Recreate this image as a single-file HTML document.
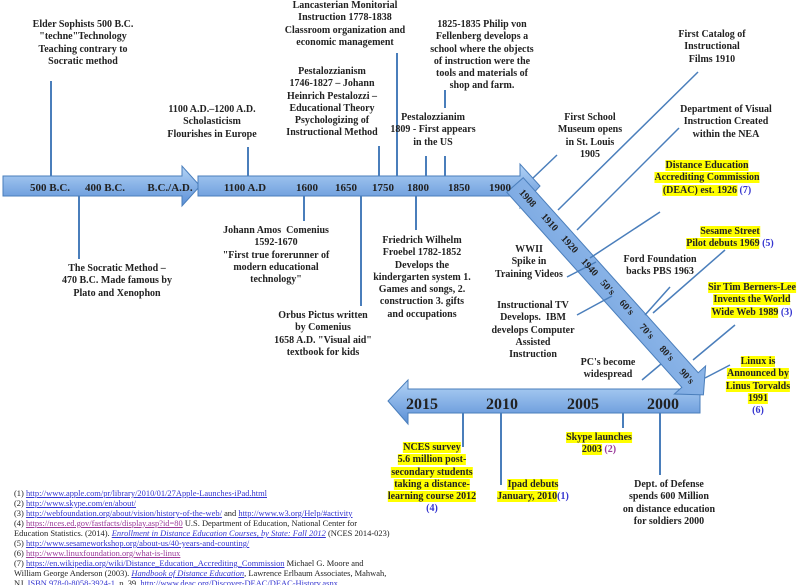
<!DOCTYPE html>
<html><head><meta charset="utf-8"><style>
html,body{margin:0;padding:0;background:#fff;}
#w{position:relative;width:798px;height:585px;overflow:hidden;background:#fff;}
svg{position:absolute;left:0;top:0;}
.t{position:absolute;font-family:"Liberation Serif",serif;font-weight:bold;font-size:10px;line-height:12.3px;color:#222;text-align:center;white-space:nowrap;transform:translateX(-50%);}
.h{background:#ffff00;}
.b{color:#3535d0;font-weight:bold;}
.p{color:#9a3a9a;}
.refs{position:absolute;left:14px;top:488px;font-family:"Liberation Serif",serif;font-size:8.45px;line-height:10px;color:#222;white-space:nowrap;}
.refs a{color:#3535d0;text-decoration:underline;}
.refs a.p{color:#9a3a9a;}
</style></head><body><div id="w">
<svg width="798" height="585" viewBox="0 0 798 585">
<defs>
<linearGradient id="g" x1="0" y1="0" x2="0" y2="1"><stop offset="0" stop-color="#b4d4f6"/><stop offset="1" stop-color="#5a8fd6"/></linearGradient>
<linearGradient id="gd" x1="1" y1="0" x2="0" y2="0.9"><stop offset="0" stop-color="#b4d4f6"/><stop offset="1" stop-color="#5a8fd6"/></linearGradient>
</defs>
<g stroke="#4a7ebb" stroke-width="1">
<polygon fill="url(#g)" points="3,176 182,176 182,166 200,186 182,206 182,196 3,196"/>
<polygon fill="url(#g)" points="198,176 520,176 520,164 540,186 520,208 520,196 198,196"/>
<polygon fill="url(#g)" points="700,389 408,389 408,380 388,401 408,424 408,413 700,413"/>
<polygon fill="url(#gd)" points="523.2,177.7 698.2,372.7 705.6,366 703.4,394.9 674.4,394 681.8,387.3 506.8,192.3"/>
</g>
<g stroke="#4a7ebb" stroke-width="2">
<line x1="51" y1="81" x2="51" y2="176"/>
<line x1="79" y1="196" x2="79" y2="259"/>
<line x1="248" y1="147" x2="248" y2="176"/>
<line x1="304" y1="196" x2="304" y2="221"/>
<line x1="361" y1="196" x2="361" y2="306"/>
<line x1="379" y1="146" x2="379" y2="176"/>
<line x1="397" y1="53" x2="397" y2="176"/>
<line x1="416" y1="196" x2="416" y2="230"/>
<line x1="426" y1="156" x2="426" y2="176"/>
<line x1="445" y1="90" x2="445" y2="108"/>
<line x1="445" y1="156" x2="445" y2="176"/>
<line x1="463" y1="413" x2="463" y2="447"/>
<line x1="501" y1="413" x2="501" y2="485"/>
<line x1="623" y1="413" x2="623" y2="428"/>
<line x1="660" y1="413" x2="660" y2="475"/>
</g>
<g stroke="#4a7ebb" stroke-width="1.5">
<line x1="533" y1="178" x2="557" y2="155"/>
<line x1="558" y1="210" x2="698" y2="72"/>
<line x1="577" y1="230" x2="679" y2="128"/>
<line x1="590" y1="258" x2="660" y2="212"/>
<line x1="567" y1="277" x2="596" y2="262"/>
<line x1="577" y1="315" x2="612" y2="296"/>
<line x1="645" y1="315" x2="670" y2="287"/>
<line x1="653" y1="313" x2="725" y2="250"/>
<line x1="642" y1="380" x2="661" y2="364"/>
<line x1="693" y1="360" x2="735" y2="325"/>
<line x1="705" y1="378" x2="730" y2="365"/>
</g>
<g font-family="Liberation Serif,serif" font-weight="bold" font-size="11" fill="#222" text-anchor="middle">
<text x="50" y="191">500 B.C.</text>
<text x="105" y="191">400 B.C.</text>
<text x="170" y="191">B.C./A.D.</text>
<text x="245" y="191">1100 A.D</text>
<text x="307" y="191">1600</text>
<text x="346" y="191">1650</text>
<text x="383" y="191">1750</text>
<text x="418" y="191">1800</text>
<text x="459" y="191">1850</text>
<text x="500" y="191">1900</text>
</g>
<g font-family="Liberation Serif,serif" font-weight="bold" font-size="10" fill="#222" text-anchor="middle">
<text transform="translate(528,198) rotate(48)" y="3.5">1908</text>
<text transform="translate(550,222) rotate(48)" y="3.5">1910</text>
<text transform="translate(570,244) rotate(48)" y="3.5">1920</text>
<text transform="translate(590,267) rotate(48)" y="3.5">1940</text>
<text transform="translate(608,287) rotate(48)" y="3.5">50's</text>
<text transform="translate(627,307) rotate(48)" y="3.5">60's</text>
<text transform="translate(647,331) rotate(48)" y="3.5">70's</text>
<text transform="translate(667,353) rotate(48)" y="3.5">80's</text>
<text transform="translate(687,376) rotate(48)" y="3.5">90's</text>
</g>
<g font-family="Liberation Serif,serif" font-weight="bold" font-size="16" fill="#222" text-anchor="middle">
<text x="422" y="409">2015</text>
<text x="502" y="409">2010</text>
<text x="583" y="409">2005</text>
<text x="663" y="409">2000</text>
</g>
</svg>

<div class="t" style="left:83px;top:19px">Elder Sophists 500 B.C.<br>"techne"Technology<br>Teaching contrary to<br>Socratic method</div>
<div class="t" style="left:212px;top:104px">1100 A.D.–1200 A.D.<br>Scholasticism<br>Flourishes in Europe</div>
<div class="t" style="left:332px;top:66px">Pestalozzianism<br>1746-1827 – Johann<br>Heinrich Pestalozzi –<br>Educational Theory<br>Psychologizing of<br>Instructional Method</div>
<div class="t" style="left:345px;top:0px">Lancasterian Monitorial<br>Instruction 1778-1838<br>Classroom organization and<br>economic management</div>
<div class="t" style="left:482px;top:19px">1825-1835 Philip von<br>Fellenberg develops a<br>school where the objects<br>of instruction were the<br>tools and materials of<br>shop and farm.</div>
<div class="t" style="left:433px;top:112px">Pestalozzianim<br>1809 - First appears<br>in the US</div>
<div class="t" style="left:590px;top:112px">First School<br>Museum opens<br>in St. Louis<br>1905</div>
<div class="t" style="left:712px;top:29px">First Catalog of<br>Instructional<br>Films 1910</div>
<div class="t" style="left:726px;top:104px">Department of Visual<br>Instruction Created<br>within the NEA</div>
<div class="t" style="left:707px;top:160px"><span class="h">Distance Education</span><br><span class="h">Accrediting Commission</span><br><span class="h">(DEAC) est. 1926</span> <span class="b">(7)</span></div>
<div class="t" style="left:117px;top:263px">The Socratic Method –<br>470 B.C. Made famous by<br>Plato and Xenophon</div>
<div class="t" style="left:276px;top:225px">Johann Amos&nbsp; Comenius<br>1592-1670<br>"First true forerunner of<br>modern educational<br>technology"</div>
<div class="t" style="left:323px;top:310px">Orbus Pictus written<br>by Comenius<br>1658 A.D. "Visual aid"<br>textbook for kids</div>
<div class="t" style="left:422px;top:235px">Friedrich Wilhelm<br>Froebel 1782-1852<br>Develops the<br>kindergarten system 1.<br>Games and songs, 2.<br>construction 3. gifts<br>and occupations</div>
<div class="t" style="left:529px;top:244px">WWII<br>Spike in<br>Training Videos</div>
<div class="t" style="left:533px;top:300px">Instructional TV<br>Develops.&nbsp; IBM<br>develops Computer<br>Assisted<br>Instruction</div>
<div class="t" style="left:660px;top:254px">Ford Foundation<br>backs PBS 1963</div>
<div class="t" style="left:730px;top:226px"><span class="h">Sesame Street</span><br><span class="h">Pilot debuts 1969</span> <span class="b">(5)</span></div>
<div class="t" style="left:608px;top:357px">PC's become<br>widespread</div>
<div class="t" style="left:752px;top:282px"><span class="h">Sir Tim Berners-Lee</span><br><span class="h">Invents the World</span><br><span class="h">Wide Web 1989</span> <span class="b">(3)</span></div>
<div class="t" style="left:758px;top:356px"><span class="h">Linux is</span><br><span class="h">Announced by</span><br><span class="h">Linus Torvalds</span><br><span class="h">1991</span><br><span class="b">(6)</span></div>
<div class="t" style="left:432px;top:442px"><span class="h">NCES survey</span><br><span class="h">5.6 million post-</span><br><span class="h">secondary students</span><br><span class="h">taking a distance-</span><br><span class="h">learning course 2012</span><br><span class="b">(4)</span></div>
<div class="t" style="left:533px;top:479px"><span class="h">Ipad debuts</span><br><span class="h">January, 2010</span><span class="b">(1)</span></div>
<div class="t" style="left:599px;top:432px"><span class="h">Skype launches</span><br><span class="h">2003</span> <span class="b p">(2)</span></div>
<div class="t" style="left:669px;top:479px">Dept. of Defense<br>spends 600 Million<br>on distance education<br>for soldiers 2000</div>

<div class="refs">
(1) <a>http://www.apple.com/pr/library/2010/01/27Apple-Launches-iPad.html</a><br>
(2) <a>http://www.skype.com/en/about/</a><br>
(3) <a>http://webfoundation.org/about/vision/history-of-the-web/</a> and <a>http://www.w3.org/Help/#activity</a><br>
(4) <a class="p">https://nces.ed.gov/fastfacts/display.asp?id=80</a> U.S. Department of Education, National Center for<br>
Education Statistics. (2014). <a><i>Enrollment in Distance Education Courses, by State: Fall 2012</i></a> (NCES 2014-023)<br>
(5) <a>http://www.sesameworkshop.org/about-us/40-years-and-counting/</a><br>
(6) <a class="p">http://www.linuxfoundation.org/what-is-linux</a><br>
(7) <a>https://en.wikipedia.org/wiki/Distance_Education_Accrediting_Commission</a> Michael G. Moore and<br>
William George Anderson (2003). <a><i>Handbook of Distance Education</i></a>, Lawrence Erlbaum Associates, Mahwah,<br>
NJ. <a>ISBN 978-0-8058-3924-1</a>. p. 39. <a>http://www.deac.org/Discover-DEAC/DEAC-History.aspx</a>
</div>
</div></body></html>
